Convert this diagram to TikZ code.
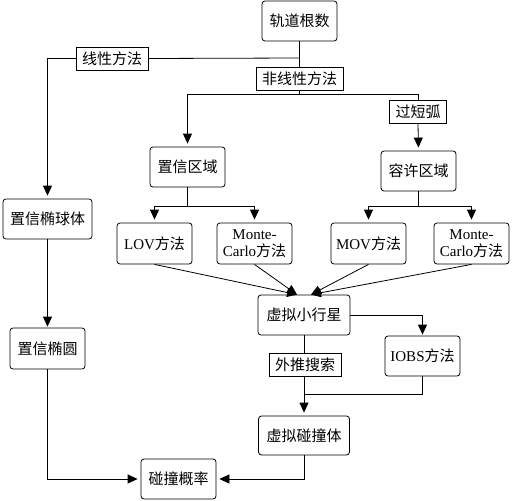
\documentclass[tikz,border=0pt]{standalone}
\usepackage{fontspec}
\setmainfont{Liberation Serif}
\newfontfamily\zh{Noto Sans CJK SC}
\usetikzlibrary{arrows.meta, calc}

\begin{document}
\begin{tikzpicture}[x=1pt, y=-1pt, line width=0.8pt,
    >={Triangle[length=10pt,width=9pt]},
    box/.style={draw, rounded corners=3pt, fill=white, minimum width=75pt, minimum height=40pt, inner sep=0pt, align=center, font=\fontsize{15}{17}\selectfont},
    tag/.style={draw, fill=white, minimum height=23pt, inner xsep=6pt, inner ysep=0pt, font=\fontsize{15}{17}\selectfont}]
    \useasboundingbox (0,0) rectangle (513,500);

    % top
    \node[box] (root) at (299.5,21) {\zh 轨道根数};
    \node[tag] (lin) at (112,58.5) {\zh 线性方法};
    \node[tag] (nonlin) at (299.5,78.5) {\zh 非线性方法};
    \node[tag] (arc) at (418,111.5) {\zh 过短弧};

    % regions
    \node[box] (conf) at (187.5,167) {\zh 置信区域};
    \node[box] (tol) at (418.5,171) {\zh 容许区域};
    \node[box, minimum width=89pt] (ellipsoid) at (47.5,219) {\zh 置信椭球体};

    % methods
    \node[box, minimum height=41pt] (lov) at (154.5,243.5) {LOV{\zh 方法}};
    \node[box, minimum height=41pt] (mcl) at (254.5,243.5) {Monte-\\Carlo{\zh 方法}};
    \node[box, minimum height=41pt] (mov) at (368.5,243.5) {MOV{\zh 方法}};
    \node[box, minimum height=41pt] (mcr) at (471.5,243.5) {Monte-\\Carlo{\zh 方法}};

    % lower part
    \node[box, minimum width=92pt] (va) at (304,315) {\zh 虚拟小行星};
    \node[box] (iobs) at (422.5,356) {IOBS{\zh 方法}};
    \node[tag] (extrap) at (305,364.5) {\zh 外推搜索};
    \node[box, minimum width=91pt, minimum height=39pt] (vi) at (304,435.5) {\zh 虚拟碰撞体};
    \node[box, minimum height=41pt] (ellipse) at (47.5,348.5) {\zh 置信椭圆};
    \node[box] (prob) at (178.5,479) {\zh 碰撞概率};

    \coordinate (split) at (299.5,58);
    \coordinate (fork) at (299.5,94);
    \coordinate (cbranch) at (187.5,206);
    \coordinate (tbranch) at (418.5,206);
    \coordinate (join) at (304,394);

    \draw (root.south) -- (nonlin.north);
    \draw (split) -- (lin.east);
    \draw[->, shorten >=3pt] (lin.west) -| (ellipsoid.north);
    \draw (nonlin.south) -- (fork);
    \draw[->, shorten >=3pt] (fork) -| (conf.north);
    \draw (fork) -| (arc.north);
    \draw[->, shorten >=3pt] (arc.south) -- (tol.north);

    \draw (conf.south) -- (cbranch);
    \draw[->, shorten >=3pt] (cbranch) -| (lov.north);
    \draw[->, shorten >=3pt] (cbranch) -| (mcl.north);
    \draw (tol.south) -- (tbranch);
    \draw[->, shorten >=3pt] (tbranch) -| (mov.north);
    \draw[->, shorten >=3pt] (tbranch) -| (mcr.north);

    \draw[->] (lov.south) -- ([xshift=-7pt]va.north);
    \draw[->] (mcl.south) -- ([xshift=-7pt]va.north);
    \draw[->] (mov.south) -- ([xshift=7pt]va.north);
    \draw[->] (mcr.south) -- ([xshift=7pt]va.north);

    \draw[->, shorten >=1pt] (va.east) -| (iobs.north);
    \draw (va.south) -- (extrap.north -| va.south);
    \draw[->, shorten >=3pt] (extrap.south -| va.south) -- (vi.north);
    \draw (iobs.south) |- (join);

    \draw[->, shorten >=1pt] (ellipsoid.south) -- (ellipse.north);
    \draw[->, shorten >=3pt] (ellipse.south) |- (prob.west);
    \draw[->, shorten >=3pt] (vi.south) |- (prob.east);
\end{tikzpicture}
\end{document}
